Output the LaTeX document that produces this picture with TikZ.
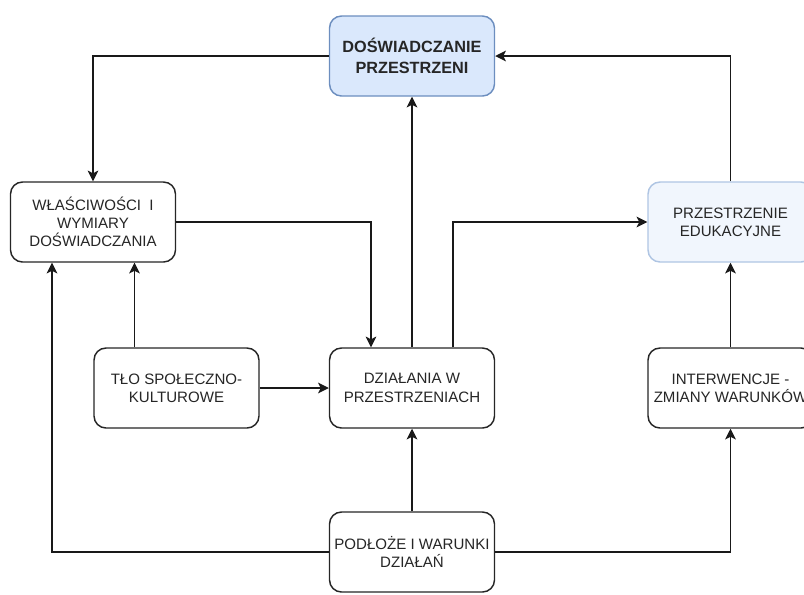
\documentclass[tikz,border=0pt]{standalone}
\usepackage{fontspec}
\setmainfont{Liberation Sans}
\usetikzlibrary{arrows.meta}
\definecolor{bluefill}{HTML}{DAE8FC}
\definecolor{blueline}{HTML}{6C8EBF}
\definecolor{palefill}{HTML}{F1F6FD}
\definecolor{paleline}{HTML}{AFC5E3}
\definecolor{txt}{HTML}{262626}
\tikzset{
  box/.style={draw=black!85, line width=1.1pt, rounded corners=9pt, fill=white,
    minimum width=123.75pt, minimum height=60pt, align=center,
    font=\fontsize{11.3}{13.7}\selectfont, text=txt, inner sep=0pt},
  conn/.style={line width=1pt, draw=black!90, -{Stealth[length=8pt,width=8pt,inset=2pt]}}
}
\begin{document}
\begin{tikzpicture}[x=0.75pt,y=-0.75pt]
\useasboundingbox (0,0) rectangle (804,594);
\clip (0,0) rectangle (804,594);
\node[box, fill=bluefill, draw=blueline, font=\fontsize{12.2}{15.5}\selectfont\bfseries] (dos) at (412,56) {DOŚWIADCZANIE\\PRZESTRZENI};
\node[box] (wla) at (93,222) {WŁAŚCIWOŚCI~ I\\WYMIARY\\DOŚWIADCZANIA};
\node[box, fill=palefill, draw=paleline] (edu) at (730.5,222) {PRZESTRZENIE\\EDUKACYJNE};
\node[box] (tlo) at (176.5,388) {TŁO SPOŁECZNO-\\KULTUROWE};
\node[box] (dzi) at (412,388) {DZIAŁANIA W\\PRZESTRZENIACH};
\node[box] (int) at (730.5,388) {INTERWENCJE -\\ZMIANY WARUNKÓW};
\node[box] (pod) at (412,552) {PODŁOŻE I WARUNKI\\DZIAŁAŃ};
% connectors
\draw[conn] (dos.west) -| (wla.north);
\draw[conn] (edu.north) |- (dos.east);
\draw[conn] (dzi.north) -- (dos.south);
\draw[conn] (wla.east) -| ([xshift=-41*0.75pt]dzi.north);
\draw[conn] ([xshift=41*0.75pt]dzi.north) |- (edu.west);
\draw[conn] ([xshift=-42*0.75pt]tlo.north) -- ([xshift=-42*0.75pt]tlo.north |- wla.south);
\draw[conn] (tlo.east) -- (dzi.west);
\draw[conn] (pod.north) -- (dzi.south);
\draw[conn] (pod.west) -| ([xshift=-41*0.75pt]wla.south);
\draw[conn] (pod.east) -| (int.south);
\draw[conn] (int.north) -- (edu.south);
\end{tikzpicture}
\end{document}
